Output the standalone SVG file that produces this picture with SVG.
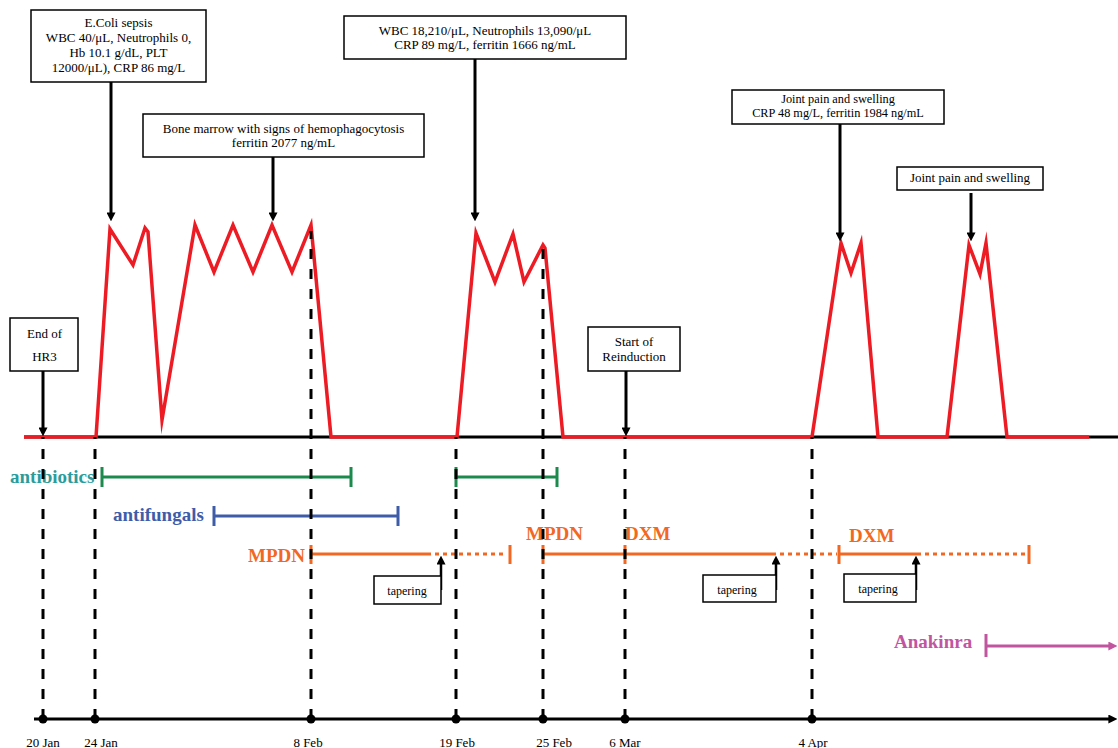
<svg xmlns="http://www.w3.org/2000/svg" width="1118" height="748" viewBox="0 0 1118 748">
<style>
.box{fill:#fff;stroke:#000;stroke-width:1.5}
.bt{font-family:"Liberation Serif","Times New Roman",serif;font-size:13px;fill:#000;text-anchor:middle}
.bs{font-family:"Liberation Serif","Times New Roman",serif;font-size:12.3px;fill:#000;text-anchor:middle}
.st{font-family:"Liberation Serif","Times New Roman",serif;font-size:12px;fill:#000;text-anchor:middle}
.arr{stroke:#000;stroke-width:3;fill:none;marker-end:url(#ah)}
.sarr{stroke:#000;stroke-width:2.5;fill:none;marker-end:url(#ah)}
.dash{stroke:#000;stroke-width:3;stroke-dasharray:10 10;fill:none}
.lab{font-family:"Liberation Serif","Times New Roman",serif;font-size:19px;font-weight:bold}
.dl{font-family:"Liberation Serif","Times New Roman",serif;font-size:13px;fill:#000;text-anchor:middle}
.grn{stroke:#1C8A4C;stroke-width:3;fill:none}
.blu{stroke:#3F5CA9;stroke-width:3;fill:none}
.org{stroke:#F26822;stroke-width:3;fill:none}
.dot{stroke-dasharray:4 4}
.mag{stroke:#C2559F;stroke-width:3;fill:none}
</style>
<defs>
<marker id="ah" viewBox="0 0 10 10" refX="4" refY="5" markerUnits="userSpaceOnUse" markerWidth="9" markerHeight="9" orient="auto"><path d="M0,0 L10,5 L0,10 z" fill="#000"/></marker>
<marker id="ahm" viewBox="0 0 10 10" refX="4" refY="5" markerUnits="userSpaceOnUse" markerWidth="9" markerHeight="9" orient="auto"><path d="M0,0 L10,5 L0,10 z" fill="#C2559F"/></marker>
</defs>
<rect width="1118" height="748" fill="#fff"/>

<g id="baseline">
<line x1="24" y1="437" x2="1118" y2="437" stroke="#000" stroke-width="3"/>
</g>

<g id="fever-curve">
<polyline fill="none" stroke="#ED1C24" stroke-width="3.5" stroke-linejoin="miter" stroke-miterlimit="10" points="24,437 96,437 110,229 133,265 145,228 148,232 162,420 195,225 214,272 233,225 253,272 272,225 292,272 311,225 331,437 457,437 476,233 495,282 513,234 524,282 543,245 545,248 563,437 812,437 841,243 851,273 861,243 878,437 947,437 969,245 980,274 986,243 1007,437 1089,437"/>
</g>

<g id="treatments">
<text class="lab" x="10" y="483" fill="#2A9C9C">antibiotics</text>
<path class="grn" d="M102,477 H351 M102,467 V487 M351,467 V487"/>
<path class="grn" d="M456,477 H557 M456,467 V487 M557,467 V487"/>

<text class="lab" x="113" y="521" fill="#3F5CA9">antifungals</text>
<path class="blu" d="M214,516 H398 M214,506 V526 M398,506 V526"/>

<text class="lab" x="248" y="562" fill="#F26822">MPDN</text>
<path class="org" d="M311,554 H427 M311,545 V564 M510,545 V564"/>
<path class="org dot" d="M427,554 H506"/>

<text class="lab" x="526" y="540" fill="#F26822">MPDN</text>
<text class="lab" x="625" y="540" fill="#F26822">DXM</text>
<path class="org" d="M543,554 H772 M543,545 V564 M625,545 V564"/>
<path class="org dot" d="M772,554 H837"/>

<text class="lab" x="849" y="542" fill="#F26822">DXM</text>
<path class="org" d="M839,554 H917 M839,545 V564 M1029,545 V564"/>
<path class="org dot" d="M917,554 H1026"/>

<text class="lab" x="894" y="648" fill="#C2559F">Anakinra</text>
<path class="mag" d="M986,634 V657"/>
<line class="mag" x1="986" y1="646" x2="1112" y2="646" marker-end="url(#ahm)"/>
</g>

<g id="date-lines">
<path class="dash" d="M43,719 V437 M95,719 V437 M311,719 V231 M456,719 V437 M543,719 V249 M625,719 V437 M812,719 V437"/>
</g>

<g id="time-axis">
<line class="arr" x1="34" y1="719" x2="1112" y2="719"/>
<circle cx="43" cy="719" r="4.5"/>
<circle cx="95" cy="719" r="4.5"/>
<circle cx="311" cy="719" r="4.5"/>
<circle cx="456" cy="719" r="4.5"/>
<circle cx="543" cy="719" r="4.5"/>
<circle cx="625" cy="719" r="4.5"/>
<circle cx="812" cy="719" r="4.5"/>
<text class="dl" x="43" y="747">20 Jan</text>
<text class="dl" x="101" y="747">24 Jan</text>
<text class="dl" x="308" y="747">8 Feb</text>
<text class="dl" x="457" y="747">19 Feb</text>
<text class="dl" x="554" y="747">25 Feb</text>
<text class="dl" x="625" y="747">6 Mar</text>
<text class="dl" x="813" y="747">4 Apr</text>
</g>

<g id="connectors">
<line class="arr" x1="111" y1="82" x2="111" y2="216"/>
<line class="arr" x1="273" y1="157" x2="273" y2="216"/>
<line class="arr" x1="475" y1="59" x2="475" y2="216"/>
<line class="arr" x1="840" y1="124" x2="840" y2="236"/>
<line class="arr" x1="971" y1="193" x2="971" y2="236"/>
<line class="arr" x1="43" y1="371" x2="43" y2="431"/>
<line class="arr" x1="626" y1="371" x2="626" y2="431"/>
<line class="sarr" x1="441" y1="590" x2="441" y2="561"/>
<line class="sarr" x1="776" y1="590" x2="776" y2="561"/>
<line class="sarr" x1="916" y1="590" x2="916" y2="561"/>
</g>

<g id="node-ecoli">
<rect class="box" x="31" y="10" width="175" height="72"/>
<text class="bt" x="118.5" y="27">E.Coli sepsis</text>
<text class="bt" x="118.5" y="42">WBC 40/μL, Neutrophils 0,</text>
<text class="bt" x="118.5" y="57">Hb 10.1 g/dL, PLT</text>
<text class="bt" x="118.5" y="72">12000/μL), CRP 86 mg/L</text>
</g>

<g id="node-bonemarrow">
<rect class="box" x="143" y="114" width="281" height="43"/>
<text class="bt" x="283.5" y="133">Bone marrow with signs of hemophagocytosis</text>
<text class="bt" x="283.5" y="147">ferritin 2077 ng/mL</text>
</g>

<g id="node-wbc">
<rect class="box" x="344" y="16" width="282" height="43"/>
<text class="bt" x="485" y="35">WBC 18,210/μL, Neutrophils 13,090/μL</text>
<text class="bt" x="485" y="49">CRP 89 mg/L, ferritin 1666 ng/mL</text>
</g>

<g id="node-joint1">
<rect class="box" x="732" y="90" width="212" height="34"/>
<text class="bs" x="838" y="103">Joint pain and swelling</text>
<text class="bs" x="838" y="117">CRP 48 mg/L, ferritin 1984 ng/mL</text>
</g>

<g id="node-joint2">
<rect class="box" x="897" y="167" width="146" height="23"/>
<text class="bt" x="970" y="182">Joint pain and swelling</text>
</g>

<g id="node-hr3">
<rect class="box" x="10" y="318" width="68" height="53"/>
<text class="bt" x="44.5" y="338">End of</text>
<text class="bt" x="44.5" y="361">HR3</text>
</g>

<g id="node-reinduction">
<rect class="box" x="588" y="327" width="92" height="44"/>
<text class="bt" x="634" y="346">Start of</text>
<text class="bt" x="634" y="361">Reinduction</text>
</g>

<g id="node-tapering1">
<rect class="box" x="374" y="576" width="67" height="28"/>
<text class="st" x="407" y="595">tapering</text>
</g>
<g id="node-tapering2">
<rect class="box" x="703" y="575" width="73" height="27"/>
<text class="st" x="737" y="594">tapering</text>
</g>
<g id="node-tapering3">
<rect class="box" x="844" y="574" width="72" height="28"/>
<text class="st" x="878" y="593">tapering</text>
</g>
</svg>
